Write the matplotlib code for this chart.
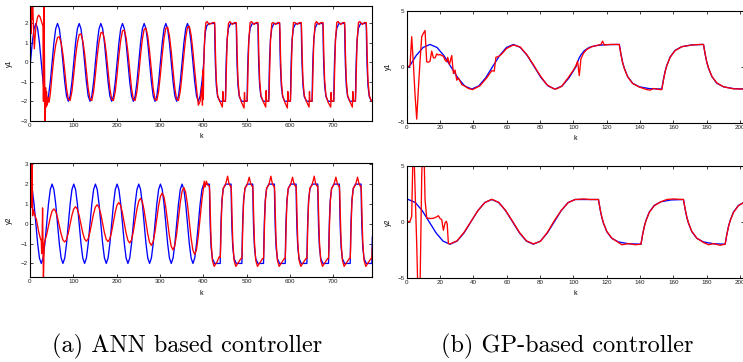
import numpy as np
import matplotlib.pyplot as plt

# ---------------- (a) ANN based controller, output y1 ----------------
# reference: sine part, 12 samples per period (k = 1 .. 401)
a1_ref_k = np.linspace(1, 401, 97)
a1_ref = [
    0, 1, 1.73, 2, 1.73, 1, 0, -1, -1.73, -2, -1.73, -1,
    0, 1, 1.73, 2, 1.73, 1, 0, -1, -1.73, -2, -1.73, -1,
    0, 1, 1.73, 2, 1.73, 1, 0, -1, -1.73, -2, -1.73, -1,
    0, 1, 1.73, 2, 1.73, 1, 0, -1, -1.73, -2, -1.73, -1,
    0, 1, 1.73, 2, 1.73, 1, 0, -1, -1.73, -2, -1.73, -1,
    0, 1, 1.73, 2, 1.73, 1, 0, -1, -1.73, -2, -1.73, -1,
    0, 1, 1.73, 2, 1.73, 1, 0, -1, -1.73, -2, -1.73, -1,
    0, 1, 1.73, 2, 1.73, 1, 0, -1, -1.73, -2, -1.73, -1,
    0,
]
# reference: square part
a1_ref_sq_k = [
    402, 403, 405, 408, 413,
    426, 427, 428, 430, 433, 438,
    451, 452, 453, 455, 458, 463,
    476, 477, 478, 480, 483, 488,
    501, 502, 503, 505, 508, 513,
    526, 527, 528, 530, 533, 538,
    551, 552, 553, 555, 558, 563,
    576, 577, 578, 580, 583, 588,
    601, 602, 603, 605, 608, 613,
    626, 627, 628, 630, 633, 638,
    651, 652, 653, 655, 658, 663,
    676, 677, 678, 680, 683, 688,
    701, 702, 703, 705, 708, 713,
    726, 727, 728, 730, 733, 738,
    751, 752, 753, 755, 758, 763,
    776, 777, 778, 780, 783, 788, 790,
]
a1_ref_sq = [
    0.66, 1.1, 1.6, 1.88, 2,
    2, 0.68, -0.2, -1.2, -1.76, -2,
    -2, -0.68, 0.2, 1.2, 1.76, 2,
    2, 0.68, -0.2, -1.2, -1.76, -2,
    -2, -0.68, 0.2, 1.2, 1.76, 2,
    2, 0.68, -0.2, -1.2, -1.76, -2,
    -2, -0.68, 0.2, 1.2, 1.76, 2,
    2, 0.68, -0.2, -1.2, -1.76, -2,
    -2, -0.68, 0.2, 1.2, 1.76, 2,
    2, 0.68, -0.2, -1.2, -1.76, -2,
    -2, -0.68, 0.2, 1.2, 1.76, 2,
    2, 0.68, -0.2, -1.2, -1.76, -2,
    -2, -0.68, 0.2, 1.2, 1.76, 2,
    2, 0.68, -0.2, -1.2, -1.76, -2,
    -2, -0.68, 0.2, 1.2, 1.76, 2,
    2, 0.68, -0.2, -1.2, -1.76, -2, -2,
]
# plant output: start-up transient
a1_out_k0 = [0, 1, 2, 3, 4, 5, 6, 8, 10, 12, 14, 17, 20, 23, 26, 28, 30, 31, 32, 33,
             35, 36, 37, 38, 40, 42, 44, 47]
a1_out0 = [0, 1.2, 3.3, 1.5, 3.3, 2.2, 3.3, 1.8, 0.7, 1.4, 1.9, 2.3, 2.43, 2.35, 2.15, 2.0,
           1.85, -2.0, 3.3, 1.0, -3.4, -1.3, -2.3, -1.5, -2.2, -1.8, -2.05, -1.6]
# plant output: sine tracking, 12 samples per period
a1_out_k1 = np.linspace(51, 396.83, 84)
a1_out1 = [
    -0.62, 0.28, 0.90, 1.28, 1.32, 1.00, 0.42, -0.42, -1.34, -1.90, -1.96, -1.49,
    -0.62, 0.31, 1.00, 1.43, 1.47, 1.11, 0.46, -0.42, -1.34, -1.90, -1.96, -1.49,
    -0.62, 0.33, 1.07, 1.52, 1.56, 1.19, 0.49, -0.42, -1.34, -1.90, -1.96, -1.49,
    -0.62, 0.35, 1.14, 1.62, 1.66, 1.26, 0.53, -0.42, -1.34, -1.90, -1.96, -1.49,
    -0.62, 0.37, 1.20, 1.71, 1.76, 1.34, 0.56, -0.42, -1.34, -1.90, -1.96, -1.49,
    -0.62, 0.38, 1.24, 1.76, 1.81, 1.37, 0.57, -0.42, -1.34, -1.90, -1.96, -1.49,
    -0.62, 0.39, 1.27, 1.81, 1.86, 1.41, 0.59, -0.42, -1.34, -2.20, -2.00, -1.20,
]
# plant output: switch to square wave
a1_out_k2 = [398, 399, 400, 401, 402, 404, 406, 409, 413, 418, 422]
a1_out2 = [-2.2, -0.4, -1.9, -0.3, 0.6, 1.6, 2.05, 2.1, 1.95, 2.0, 2.05]
a1_out_sq_k = [
    426, 427, 428, 430, 433, 438, 444, 445, 446,
    451, 452, 453, 455, 458, 461, 467, 472,
    476, 477, 478, 480, 483, 488, 494, 495, 496,
    501, 502, 503, 505, 508, 511, 517, 522,
    526, 527, 528, 530, 533, 538, 544, 545, 546,
    551, 552, 553, 555, 558, 561, 567, 572,
    576, 577, 578, 580, 583, 588, 594, 595, 596,
    601, 602, 603, 605, 608, 611, 617, 622,
    626, 627, 628, 630, 633, 638, 644, 645, 646,
    651, 652, 653, 655, 658, 661, 667, 672,
    676, 677, 678, 680, 683, 688, 694, 695, 696,
    701, 702, 703, 705, 708, 711, 717, 722,
    726, 727, 728, 730, 733, 738, 744, 745, 746,
    751, 752, 753, 755, 758, 761, 767, 772,
    776, 777, 778, 780, 783, 788, 790,
]
a1_out_sq = [
    2.05, 1.6, 0.5, -0.9, -1.7, -2.0, -2.3, -1.5, -2.0,
    -2.0, -1.5, -0.5, 1.1, 2.0, 2.1, 1.95, 2.05,
    2.05, 1.6, 0.5, -0.9, -1.7, -2.05, -2.35, -1.55, -2.0,
    -2.0, -1.5, -0.5, 1.1, 2.05, 2.1, 1.95, 2.05,
    2.05, 1.6, 0.5, -0.9, -1.7, -2.0, -2.3, -1.45, -2.0,
    -2.0, -1.5, -0.5, 1.1, 2.0, 2.05, 1.95, 2.05,
    2.05, 1.6, 0.5, -0.9, -1.7, -2.05, -2.35, -1.5, -2.0,
    -2.0, -1.5, -0.5, 1.1, 2.05, 2.05, 1.95, 2.05,
    2.05, 1.6, 0.5, -0.9, -1.7, -2.0, -2.3, -1.5, -2.0,
    -2.0, -1.5, -0.5, 1.1, 2.0, 2.1, 1.95, 2.05,
    2.05, 1.6, 0.5, -0.9, -1.7, -2.05, -2.3, -1.55, -2.0,
    -2.0, -1.5, -0.5, 1.1, 2.05, 2.1, 1.95, 2.05,
    2.05, 1.6, 0.5, -0.9, -1.7, -2.0, -2.3, -1.5, -2.0,
    -2.0, -1.5, -0.5, 1.1, 2.05, 2.1, 1.95, 2.05,
    2.05, 1.6, 0.5, -0.9, -1.7, -2.0, -2.0,
]

# ---------------- (a) ANN based controller, output y2 ----------------
a2_ref_k = np.linspace(1, 401, 97)
a2_ref = [
    2, 1.73, 1, 0, -1, -1.73, -2, -1.73, -1, 0, 1, 1.73,
    2, 1.73, 1, 0, -1, -1.73, -2, -1.73, -1, 0, 1, 1.73,
    2, 1.73, 1, 0, -1, -1.73, -2, -1.73, -1, 0, 1, 1.73,
    2, 1.73, 1, 0, -1, -1.73, -2, -1.73, -1, 0, 1, 1.73,
    2, 1.73, 1, 0, -1, -1.73, -2, -1.73, -1, 0, 1, 1.73,
    2, 1.73, 1, 0, -1, -1.73, -2, -1.73, -1, 0, 1, 1.73,
    2, 1.73, 1, 0, -1, -1.73, -2, -1.73, -1, 0, 1, 1.73,
    2, 1.73, 1, 0, -1, -1.73, -2, -1.73, -1, 0, 1, 1.73,
    2,
]
a2_ref_sq_k = [
    414, 415, 416, 418, 421, 426,
    439, 440, 441, 443, 446, 451,
    464, 465, 466, 468, 471, 476,
    489, 490, 491, 493, 496, 501,
    514, 515, 516, 518, 521, 526,
    539, 540, 541, 543, 546, 551,
    564, 565, 566, 568, 571, 576,
    589, 590, 591, 593, 596, 601,
    614, 615, 616, 618, 621, 626,
    639, 640, 641, 643, 646, 651,
    664, 665, 666, 668, 671, 676,
    689, 690, 691, 693, 696, 701,
    714, 715, 716, 718, 721, 726,
    739, 740, 741, 743, 746, 751,
    764, 765, 766, 768, 771, 776,
    789, 790,
]
a2_ref_sq = [
    2, 0.68, -0.2, -1.2, -1.76, -2,
    -2, -0.68, 0.2, 1.2, 1.76, 2,
    2, 0.68, -0.2, -1.2, -1.76, -2,
    -2, -0.68, 0.2, 1.2, 1.76, 2,
    2, 0.68, -0.2, -1.2, -1.76, -2,
    -2, -0.68, 0.2, 1.2, 1.76, 2,
    2, 0.68, -0.2, -1.2, -1.76, -2,
    -2, -0.68, 0.2, 1.2, 1.76, 2,
    2, 0.68, -0.2, -1.2, -1.76, -2,
    -2, -0.68, 0.2, 1.2, 1.76, 2,
    2, 0.68, -0.2, -1.2, -1.76, -2,
    -2, -0.68, 0.2, 1.2, 1.76, 2,
    2, 0.68, -0.2, -1.2, -1.76, -2,
    -2, -0.68, 0.2, 1.2, 1.76, 2,
    2, 0.68, -0.2, -1.2, -1.76, -2,
    -2, -0.68,
]
a2_out_k0 = [0, 1, 2, 3, 4, 5, 6, 8, 11, 15, 20, 24, 26, 27, 28, 29, 31, 32, 33]
a2_out0 = [0.5, 3.5, 0.8, 3.5, 1.0, 3.5, 0.4, 0.7, 0.45, 0.2, -0.4, -0.75, -0.85, -1.5,
           -0.7, 0.8, -2.9, -1.8, -1.0]
a2_out_k1 = np.linspace(34.17, 400.83, 89)
a2_out1 = [
    -0.88, -0.56, -0.12, 0.31, 0.63,
    0.75, 0.64, 0.33, -0.09, -0.5, -0.81, -0.92, -0.8, -0.47, -0.03, 0.42, 0.74,
    0.86, 0.74, 0.43, -0.01, -0.45, -0.76, -0.88, -0.76, -0.42, 0.04, 0.5, 0.84,
    0.96, 0.84, 0.5, 0.03, -0.44, -0.78, -0.9, -0.77, -0.41, 0.09, 0.58, 0.94,
    1.07, 0.93, 0.54, 0.05, -0.46, -0.83, -0.97, -0.82, -0.41, 0.16, 0.72, 1.13,
    1.28, 1.12, 0.68, 0.1, -0.5, -0.93, -1.09, -0.91, -0.43, 0.23, 0.89, 1.37,
    1.55, 1.36, 0.83, 0.12, -0.6, -1.13, -1.32, -1.11, -0.53, 0.26, 1.04, 1.62,
    1.83, 1.6, 0.99, 0.14, -0.7, -1.32, -1.55, -1.31, -0.64, 0.28, 1.19, 1.86,
]
a2_out_k2 = [402, 404, 407, 410]
a2_out2 = [2.15, 1.85, 2.15, 1.95]
a2_out_sq_k = [
    414, 415, 416, 418, 421, 425, 431, 437,
    439, 440, 441, 443, 446, 451, 456, 459, 462,
    464, 465, 466, 468, 471, 475, 481, 487,
    489, 490, 491, 493, 496, 501, 506, 509, 512,
    514, 515, 516, 518, 521, 525, 531, 537,
    539, 540, 541, 543, 546, 551, 556, 559, 562,
    564, 565, 566, 568, 571, 575, 581, 587,
    589, 590, 591, 593, 596, 601, 606, 609, 612,
    614, 615, 616, 618, 621, 625, 631, 637,
    639, 640, 641, 643, 646, 651, 656, 659, 662,
    664, 665, 666, 668, 671, 675, 681, 687,
    689, 690, 691, 693, 696, 701, 706, 709, 712,
    714, 715, 716, 718, 721, 725, 731, 737,
    739, 740, 741, 743, 746, 751, 756, 759, 762,
    764, 765, 766, 768, 771, 775, 781, 787,
    789, 790,
]
a2_out_sq = [
    1.9, 1.5, 0.6, -0.9, -1.85, -2.15, -1.95, -1.65,
    -1.7, -1.2, -0.2, 1.1, 1.8, 1.95, 2.4, 2.05, 1.9,
    1.9, 1.5, 0.6, -0.9, -1.85, -2.15, -1.95, -1.75,
    -1.75, -1.2, -0.2, 1.1, 1.8, 1.95, 2.35, 2.05, 1.9,
    1.9, 1.5, 0.6, -0.9, -1.85, -2.15, -1.95, -1.75,
    -1.75, -1.2, -0.2, 1.1, 1.8, 1.95, 2.4, 2.05, 1.9,
    1.9, 1.5, 0.6, -0.9, -1.85, -2.15, -1.95, -1.75,
    -1.75, -1.2, -0.2, 1.1, 1.8, 1.95, 2.35, 2.05, 1.9,
    1.9, 1.5, 0.6, -0.9, -1.85, -2.15, -1.95, -1.75,
    -1.75, -1.2, -0.2, 1.1, 1.8, 1.95, 2.4, 2.05, 1.9,
    1.9, 1.5, 0.6, -0.9, -1.85, -2.15, -1.95, -1.75,
    -1.75, -1.2, -0.2, 1.1, 1.8, 1.95, 2.35, 2.05, 1.9,
    1.9, 1.5, 0.6, -0.9, -1.85, -2.15, -1.95, -1.75,
    -1.75, -1.2, -0.2, 1.1, 1.8, 1.95, 2.35, 2.05, 1.9,
    1.9, 1.5, 0.6, -0.9, -1.85, -2.15, -1.95, -1.75,
    -1.75, -1.2,
]

# ---------------- (b) GP-based controller, output y1 ----------------
b1_ref_k = np.linspace(1.5, 101.5, 25)
b1_ref = [0, 1, 1.73, 2, 1.73, 1, 0, -1, -1.73, -2, -1.73, -1,
          0, 1, 1.73, 2, 1.73, 1, 0, -1, -1.73, -2, -1.73, -1, 0]
b1_ref_sq_k = [102.5, 103.5, 104.5, 106.5, 109.5, 113.5, 119.5,
               127.5, 128.5, 129.5, 130.5, 132.5, 135.5, 139.5, 145.5,
               153, 154, 155, 156, 158, 161, 165, 171,
               178, 179, 180, 181, 183, 186, 190, 196, 203]
b1_ref_sq = [0.44, 0.8, 1.06, 1.44, 1.74, 1.9, 1.98,
             2, 1.12, 0.4, -0.12, -0.88, -1.48, -1.8, -1.96,
             -2, -1.12, -0.4, 0.12, 0.88, 1.48, 1.8, 1.96,
             2, 1.12, 0.4, -0.12, -0.88, -1.48, -1.8, -1.96, -2]
b1_out_k = [0.5, 2, 3, 4, 5, 6, 7, 8, 9, 10, 11, 12, 13, 14, 15, 16, 17, 18, 19, 20,
            21, 22, 23, 24, 24.6, 25.6, 27, 28, 29, 30, 31, 33, 35, 37, 39.5, 44, 48, 51,
            52.5, 53.5, 55.5, 57, 60, 64, 68, 72, 76, 80, 84, 88, 90, 93, 97, 100,
            101.5, 102.5, 103.5, 104.5, 106, 108, 111, 114, 116.5, 117.5, 118.5, 122,
            127.5, 128.5, 129.5, 130.5, 132.5, 135.5, 139.5, 144, 146, 148, 152,
            153, 154, 155, 156, 158, 161, 165, 171, 176,
            178, 179, 180, 181, 183, 186, 190, 196, 203]
b1_out = [0, 0.1, 2.7, 0.3, -2.5, -4.7, -2.0, 0.5, 2.7, 3.0, 3.25, 0.45, 0.4, 0.5, 1.4,
          0.8, 0.8, 1.15, 1.05, 1.1, 1.0, 0.95, 0.6, 0.45, 0.85, 0.2, 1.0, -0.6, -0.3,
          -1.2, -1.0, -1.6, -1.75, -1.95, -2.05, -1.7, -1.0, -0.35, -0.4, 0.85, 0.95,
          1.15, 1.65, 1.95, 1.78, 1.1, 0.18, -0.78, -1.6, -1.97, -1.98, -1.75, -0.95,
          -0.3, 0.1, 0.5, -0.8, 0.7, 1.2, 1.55, 1.8, 1.9, 2.0, 2.3, 1.95, 2.0,
          2.0, 1.1, 0.35, -0.15, -0.9, -1.5, -1.82, -2.05, -2.1, -1.95, -2.05,
          -2.05, -1.2, -0.45, 0.1, 0.85, 1.45, 1.8, 1.95, 2.0,
          2.0, 1.15, 0.4, -0.1, -0.85, -1.45, -1.8, -1.98, -2.0]

# ---------------- (b) GP-based controller, output y2 ----------------
b2_ref_k = np.linspace(1, 101, 25)
b2_ref = [2, 1.73, 1, 0, -1, -1.73, -2, -1.73, -1, 0, 1, 1.73,
          2, 1.73, 1, 0, -1, -1.73, -2, -1.73, -1, 0, 1, 1.73, 2]
b2_ref_sq_k = [115, 116, 117, 118, 120, 123, 127, 133,
               140.5, 141.5, 142.5, 143.5, 145.5, 148.5, 152.5, 158.5,
               166, 167, 168, 169, 171, 174, 178, 184,
               191, 192, 193, 194, 196, 199, 203]
b2_ref_sq = [2, 1.12, 0.4, -0.12, -0.88, -1.48, -1.8, -1.96,
             -2, -1.12, -0.4, 0.12, 0.88, 1.48, 1.8, 1.96,
             2, 1.12, 0.4, -0.12, -0.88, -1.48, -1.8, -1.96,
             -2, -1.12, -0.4, 0.12, 0.88, 1.48, 1.8]
b2_out_k0 = [0.5, 2, 3, 4, 6, 7, 8, 9, 10, 11, 12, 14, 16, 18, 19, 20, 21, 22, 23, 23.8,
             24.3, 25]
b2_out0 = [0, 0.05, 0.5, 8, -2, -8, -6, 4, 9, 2, 0.35, 0.3, 0.32, 0.45, 0.55, 0.3, 0.2,
           -0.75, -0.1, 0.05, -0.2, -1.95]
b2_out_k1 = np.linspace(26, 101, 19)
b2_out1 = [-1.97, -1.7, -0.95, 0.02, 1.0, 1.72, 2.02, 1.75, 1.02, 0.05, -0.95, -1.7,
           -1.97, -1.75, -0.95, 0.1, 1.02, 1.72, 2.0]
b2_out_k2 = [106, 110, 115, 116, 117, 118, 120, 123, 127, 129, 133, 137,
             140.5, 141.5, 142.5, 143.5, 145.5, 148.5, 152.5, 156, 160,
             166, 167, 168, 169, 171, 174, 178, 181, 184, 188,
             191, 192, 193, 194, 196, 199, 203]
b2_out2 = [2.05, 2.0, 2.0, 1.15, 0.45, -0.1, -0.85, -1.45, -1.85, -2.05, -1.95, -2.05,
           -2.0, -1.15, -0.45, 0.1, 0.85, 1.45, 1.8, 2.0, 2.05,
           2.0, 1.15, 0.45, -0.1, -0.85, -1.45, -1.85, -2.05, -1.95, -2.1,
           -2.0, -1.15, -0.45, 0.1, 0.85, 1.45, 1.8]


def join(*parts):
    # parts come as (k, y) pairs
    ks = np.concatenate([np.asarray(p[0], dtype=float) for p in parts])
    ys = np.concatenate([np.asarray(p[1], dtype=float) for p in parts])
    assert len(ks) == len(ys), (len(ks), len(ys))
    return ks, ys


def setup_axis(ax, xlim, ylim, xticks, yticks, ylabel, xlab_y, ylab_x):
    ax.set_xlim(xlim)
    ax.set_ylim(ylim)
    ax.set_xticks(xticks)
    ax.set_yticks(yticks)
    ax.tick_params(direction="in", top=True, right=True, length=2.5, width=0.6,
                   labelsize=4.5, pad=1.5, colors="#222222")
    for s in ax.spines.values():
        s.set_linewidth(0.8)
    ax.set_xlabel("k", fontsize=5)
    ax.set_ylabel(ylabel, fontsize=5)
    ax.xaxis.set_label_coords(0.5, xlab_y)
    ax.yaxis.set_label_coords(ylab_x, 0.5)


plt.rcParams["font.family"] = ["Liberation Sans", "DejaVu Sans"]

fig = plt.figure(figsize=(7.43, 3.62), dpi=100)

W, H = 743.0, 362.0


def add_ax(left, right, top, bottom):
    return fig.add_axes([left / W, 1 - bottom / H, (right - left) / W, (bottom - top) / H])


ax_a1 = add_ax(30, 372.3, 6, 120.7)
ax_a2 = add_ax(30, 372.3, 163.3, 277.3)
ax_b1 = add_ax(406.7, 744, 11, 122.5)
ax_b2 = add_ax(406.7, 744, 166, 277.7)

blue = (0, 0, 1)
red = (1, 0, 0)
lw = 0.95

k, y = join((a1_ref_k, a1_ref), (a1_ref_sq_k, a1_ref_sq))
ax_a1.plot(k, y, color=blue, lw=lw)
k, y = join((a1_out_k0, a1_out0), (a1_out_k1, a1_out1), (a1_out_k2, a1_out2),
            (a1_out_sq_k, a1_out_sq))
ax_a1.plot(k, y, color=red, lw=lw)

k, y = join((a2_ref_k, a2_ref), (a2_ref_sq_k, a2_ref_sq))
ax_a2.plot(k, y, color=blue, lw=lw)
k, y = join((a2_out_k0, a2_out0), (a2_out_k1, a2_out1), (a2_out_k2, a2_out2),
            (a2_out_sq_k, a2_out_sq))
ax_a2.plot(k, y, color=red, lw=lw)

k, y = join((b1_ref_k, b1_ref), (b1_ref_sq_k, b1_ref_sq))
ax_b1.plot(k, y, color=blue, lw=lw)
k, y = join((b1_out_k, b1_out))
ax_b1.plot(k, y, color=red, lw=lw)

k, y = join((b2_ref_k, b2_ref), (b2_ref_sq_k, b2_ref_sq))
ax_b2.plot(k, y, color=blue, lw=lw)
k, y = join((b2_out_k0, b2_out0), (b2_out_k1, b2_out1), (b2_out_k2, b2_out2))
ax_b2.plot(k, y, color=red, lw=lw)

setup_axis(ax_a1, (0, 790), (-3, 2.9), range(0, 800, 100), range(-3, 3), "y1", -0.11, -0.05)
setup_axis(ax_a2, (0, 790), (-2.7, 3.05), range(0, 800, 100), range(-2, 4), "y2", -0.11, -0.05)
setup_axis(ax_b1, (0, 202.3), (-5, 5), range(0, 220, 20), [-5, 0, 5], "y1", -0.11, -0.045)
setup_axis(ax_b2, (0, 202.3), (-5, 5), range(0, 220, 20), [-5, 0, 5], "y2", -0.11, -0.045)

fig.text(187 / W, 1 - 346 / H, "(a) ANN based controller", ha="center", va="center",
         family="cmr10", fontsize=17.5)
fig.text(567 / W, 1 - 346 / H, "(b) GP-based controller", ha="center", va="center",
         family="cmr10", fontsize=17.5)

fig.savefig("out.png", dpi=100)
